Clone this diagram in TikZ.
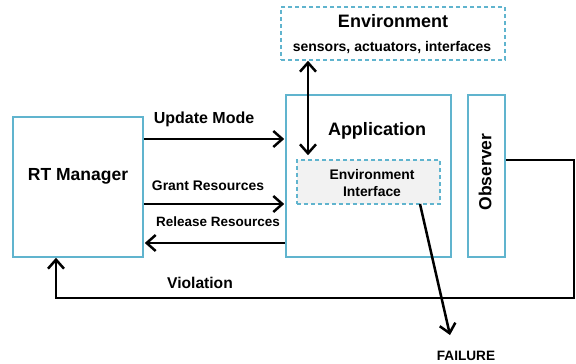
\documentclass[tikz,border=0pt]{standalone}
\usepackage{fontspec}
\setmainfont{Liberation Sans}
\usetikzlibrary{arrows.meta,calc}
\definecolor{boxblue}{RGB}{96,180,206}
\definecolor{eifill}{RGB}{242,242,242}
\begin{document}
\begin{tikzpicture}[x=1pt,y=-1pt,
  box/.style={draw=boxblue,line width=1.6pt,inner sep=0pt,fill=white},
  dbox/.style={box,dashed,dash pattern=on 4pt off 3pt},
  tip/.style={Straight Barb[length=9pt,width=16pt,line width=2.5pt]},
  arr/.style={line width=2.5pt,-{Straight Barb[length=9pt,width=16pt,line width=2.5pt]}},
  darr/.style={line width=2.5pt,{Straight Barb[length=9pt,width=16pt,line width=2.5pt]}-{Straight Barb[length=9pt,width=16pt,line width=2.5pt]}},
  txt/.style={font=\bfseries,inner sep=0pt}]
\useasboundingbox (0,0) rectangle (576,364);
% boxes
\node[box,minimum width=130pt,minimum height=140pt] (rt) at (78,187) {};
\node[box,minimum width=165pt,minimum height=162pt] (app) at (368.5,176) {};
\node[box,minimum width=37pt,minimum height=162pt] (obs) at (486.5,176) {};
\node[dbox,minimum width=224pt,minimum height=53pt] (env) at (393,33.5) {};
\node[dbox,fill=eifill,minimum width=143pt,minimum height=44pt] (ei) at (368.5,182) {};
% texts
\node[txt,font=\fontsize{17.5}{20}\selectfont\bfseries] (rtl) at (78,176) {RT Manager};
\node[txt,font=\fontsize{18}{20}\selectfont\bfseries] (appl) at (377,131) {Application};
\node[txt,font=\fontsize{17.5}{20}\selectfont\bfseries,rotate=90] (obsl) at (485,172) {Observer};
\node[txt,font=\fontsize{18}{20}\selectfont\bfseries] (envl) at (393,21) {Environment};
\node[txt,font=\fontsize{14}{16}\selectfont\bfseries] (envs) at (392,48) {sensors, actuators, interfaces};
\node[txt,font=\fontsize{13.9}{17}\selectfont\bfseries,align=center] (eil) at (372,183.5) {Environment\\Interface};
\node[txt,font=\fontsize{16}{18}\selectfont\bfseries] (upl) at (204,119) {Update Mode};
\node[txt,font=\fontsize{13.9}{16}\selectfont\bfseries] (grl) at (208,186) {Grant Resources};
\node[txt,font=\fontsize{13.5}{16}\selectfont\bfseries] (rel) at (218,222) {Release Resources};
\node[txt,font=\fontsize{15.6}{18}\selectfont\bfseries] (vil) at (200,283) {Violation};
\node[txt,font=\fontsize{13.6}{16}\selectfont\bfseries] (fail) at (466,356) {FAILURE};
% connectors
\coordinate (yu) at (0,139);
\coordinate (yg) at (0,204);
\coordinate (yr) at (0,243);
\draw[arr] (rt.east |- yu) -- ($(app.west |- yu)+(-1,0)$);
\draw[arr] (rt.east |- yg) -- ($(app.west |- yg)+(-1,0)$);
\draw[arr] (app.west |- yr) -- ($(rt.east |- yr)+(1,0)$);
\coordinate (ex) at (308,0);
\draw[darr] (env.south -| ex) -- ($(ei.north -| ex)+(0,-4)$);
\coordinate (oy) at (0,160);
\coordinate (c1) at (574,160);
\coordinate (c2) at (574,298);
\coordinate (c3) at (56,298);
\draw[arr,line join=miter]
  (obs.east |- oy) -- (c1) -- (c2) -- (c3) -- (rt.south -| c3);
\coordinate (fs) at (420,204);
\draw[arr] (fs) -- ($(fail.north)+(-16,-16)$);
\end{tikzpicture}
\end{document}
